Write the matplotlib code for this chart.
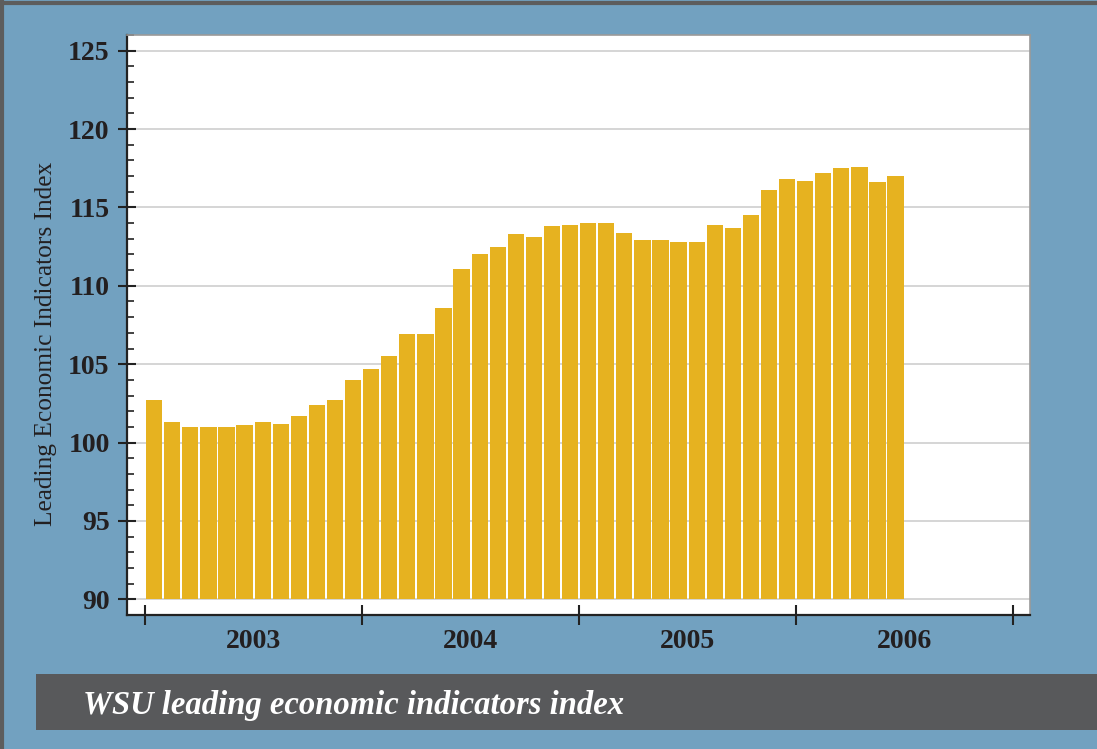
import matplotlib
matplotlib.use("Agg")
import matplotlib.pyplot as plt
from matplotlib.ticker import MultipleLocator, FixedLocator, FixedFormatter
from matplotlib.patches import Rectangle
from matplotlib.lines import Line2D
from matplotlib.font_manager import FontProperties

# Monthly values, Jan 2003 - Jun 2006
values_2003 = [102.7, 101.3, 101.0, 101.0, 101.0, 101.1, 101.3, 101.2, 101.7, 102.4, 102.7, 104.0]
values_2004 = [104.7, 105.5, 106.9, 106.9, 108.6, 111.1, 112.0, 112.5, 113.3, 113.1, 113.8, 113.9]
values_2005 = [114.0, 114.0, 113.4, 112.9, 112.9, 112.8, 112.8, 113.9, 113.7, 114.5, 116.1, 116.8]
values_2006 = [116.7, 117.2, 117.5, 117.6, 116.6, 117.0]
years = ["2003", "2004", "2005", "2006"]
values = values_2003 + values_2004 + values_2005 + values_2006

BG = "#72a1c0"
BAR = "#e6b220"
TITLEBAR = "#58595b"
SERIF = ["Liberation Serif", "DejaVu Serif"]

fig = plt.figure(figsize=(10.97, 7.49), dpi=100)
fig.patch.set_facecolor(BG)

# border lines
fig.add_artist(Line2D([0, 1], [0.996, 0.996], transform=fig.transFigure, color="#5d5d5d", lw=3))
fig.add_artist(Line2D([0.0015, 0.0015], [0, 1], transform=fig.transFigure, color="#5d5d5d", lw=3))

ax = fig.add_axes([0.1158, 0.1789, 0.939 - 0.1158, 0.9533 - 0.1789])
ax.set_facecolor("white")

x = [i + 0.5 for i in range(len(values))]
heights = [v - 90 for v in values]
ax.bar(x, heights, bottom=90, width=0.9, color=BAR, zorder=3)

ax.set_xlim(-1, 48.94)
ax.set_ylim(89, 126)

ax.yaxis.set_major_locator(FixedLocator(list(range(90, 126, 5))))
ax.yaxis.set_minor_locator(MultipleLocator(1))
ax.grid(axis="y", which="major", color="#d2d2d2", lw=1.3, zorder=1)
ax.tick_params(axis="y", which="major", direction="inout", length=13, width=1.5, color="#222222", pad=6)
ax.tick_params(axis="y", which="minor", direction="in", length=5, width=1.2, color="#222222")

ax.xaxis.set_major_locator(FixedLocator([0, 12, 24, 36, 48]))
ax.xaxis.set_major_formatter(FixedFormatter([""] * 5))
ax.xaxis.set_minor_locator(FixedLocator([6, 18, 30, 42]))
ax.xaxis.set_minor_formatter(FixedFormatter(years))
ax.tick_params(axis="x", which="major", direction="inout", length=15, width=1.5, color="#222222")
ax.tick_params(axis="x", which="minor", length=0, pad=10)

fp = FontProperties(family=SERIF, weight="bold", size=20)
for lab in ax.get_yticklabels() + ax.get_xticklabels(minor=True):
    lab.set_fontproperties(fp)
    lab.set_color("#231f20")

for s in ["left", "bottom"]:
    ax.spines[s].set_color("#222222")
    ax.spines[s].set_linewidth(1.6)
for s in ["top", "right"]:
    ax.spines[s].set_color("#9a9a9a")
    ax.spines[s].set_linewidth(1.2)

fig.text(0.042, 0.541, "Leading Economic Indicators Index", rotation=90,
         ha="center", va="center", fontsize=18.3, color="#231f20", family=SERIF)

# title bar
fig.add_artist(Rectangle((36 / 1097, 1 - 730 / 749), 1 - 36 / 1097, 56 / 749,
                         transform=fig.transFigure, facecolor=TITLEBAR, edgecolor="none"))
fig.text(83 / 1097, 1 - 714 / 749, "WSU leading economic indicators index",
         ha="left", va="baseline", fontsize=23.5, color="white", weight="bold", style="italic",
         family=SERIF)

fig.savefig("out.png", dpi=100, facecolor=BG)
